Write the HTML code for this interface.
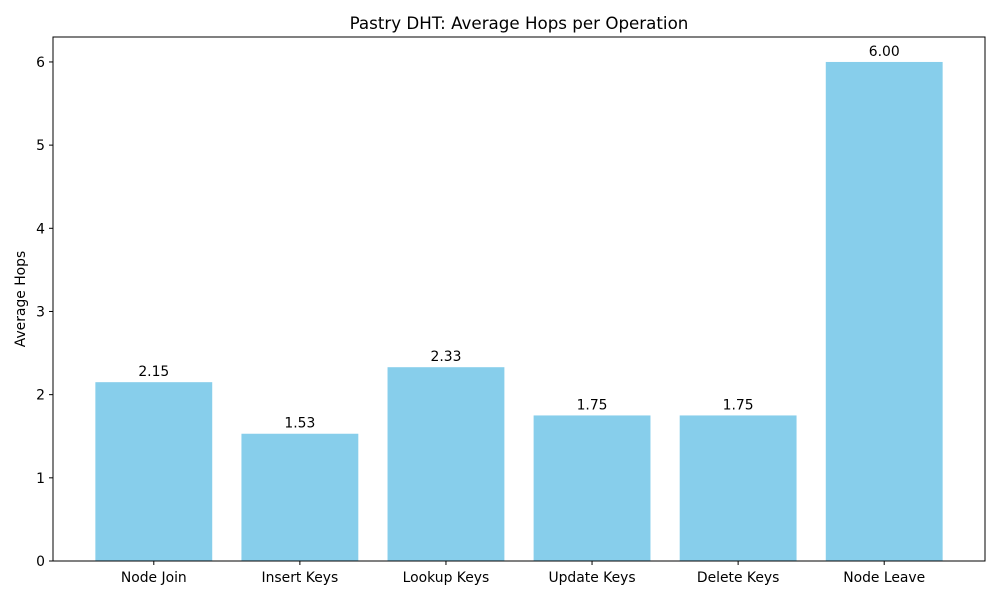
<!DOCTYPE html>
<html><head><meta charset="utf-8"><style>
body{margin:0;background:#fff;font-family:"Liberation Sans","DejaVu Sans",sans-serif;}
svg text{font-family:"DejaVu Sans","Liberation Sans",sans-serif;}
</style></head><body>
<svg id="chart" width="1000" height="600" xmlns="http://www.w3.org/2000/svg">
<rect width="1000" height="600" fill="#fff"/>
<text x="519" y="29" font-size="16.7" text-anchor="middle" fill="#000">Pastry DHT: Average Hops per Operation</text>
<text transform="translate(25,299) rotate(-90)" font-size="13.9" text-anchor="middle" fill="#000">Average Hops</text>
<g id="bars"></g>
<g id="axes"></g>
</svg>
<script>
const categories = ["Node Join","Insert Keys","Lookup Keys","Update Keys","Delete Keys","Node Leave"];
const values = [2.15,1.53,2.33,1.75,1.75,6.00];
const yTicks = [0,1,2,3,4,5,6];
const L=53,R=985,T=37,B=561;
const ymax=Math.max(...values)*1.05;
const xmin=-0.69,xmax=categories.length-1+0.69;
function xs(v){return L+(v-xmin)/(xmax-xmin)*(R-L);}
function ys(v){return B-v/ymax*(B-T);}
const NS="http://www.w3.org/2000/svg";
const bars=document.getElementById('bars'),axes=document.getElementById('axes');
function mk(tag,attrs,parent,text){const e=document.createElementNS(NS,tag);for(const k in attrs)e.setAttribute(k,attrs[k]);if(text!==undefined)e.textContent=text;parent.appendChild(e);return e;}
values.forEach((v,i)=>{
  const x0=xs(i-0.4),x1=xs(i+0.4);
  const r=mk('rect',{x:x0,y:ys(v),width:x1-x0,height:B-ys(v),fill:'#87ceeb'},bars);
  
  
  const t=mk('text',{x:xs(i),y:ys(v)-6,'font-size':13.9,'text-anchor':'middle',fill:'#000'},bars,v.toFixed(2));
  
  
  mk('line',{x1:xs(i),x2:xs(i),y1:B,y2:B+4,stroke:'#000'},axes);
  const xl=mk('text',{x:xs(i),y:B+21,'font-size':13.9,'text-anchor':'middle',fill:'#000'},axes,categories[i]);
  
  
});
yTicks.forEach(v=>{
  mk('line',{x1:L-4,x2:L,y1:ys(v),y2:ys(v),stroke:'#000'},axes);
  const yl=mk('text',{x:L-8,y:ys(v)+5,'font-size':13.9,'text-anchor':'end',fill:'#000'},axes,String(v));
  
  
});
const frame=mk('rect',{x:L,y:T,width:R-L,height:B-T,fill:'none',stroke:'#000','stroke-width':1},axes);


</script>
</body></html>
